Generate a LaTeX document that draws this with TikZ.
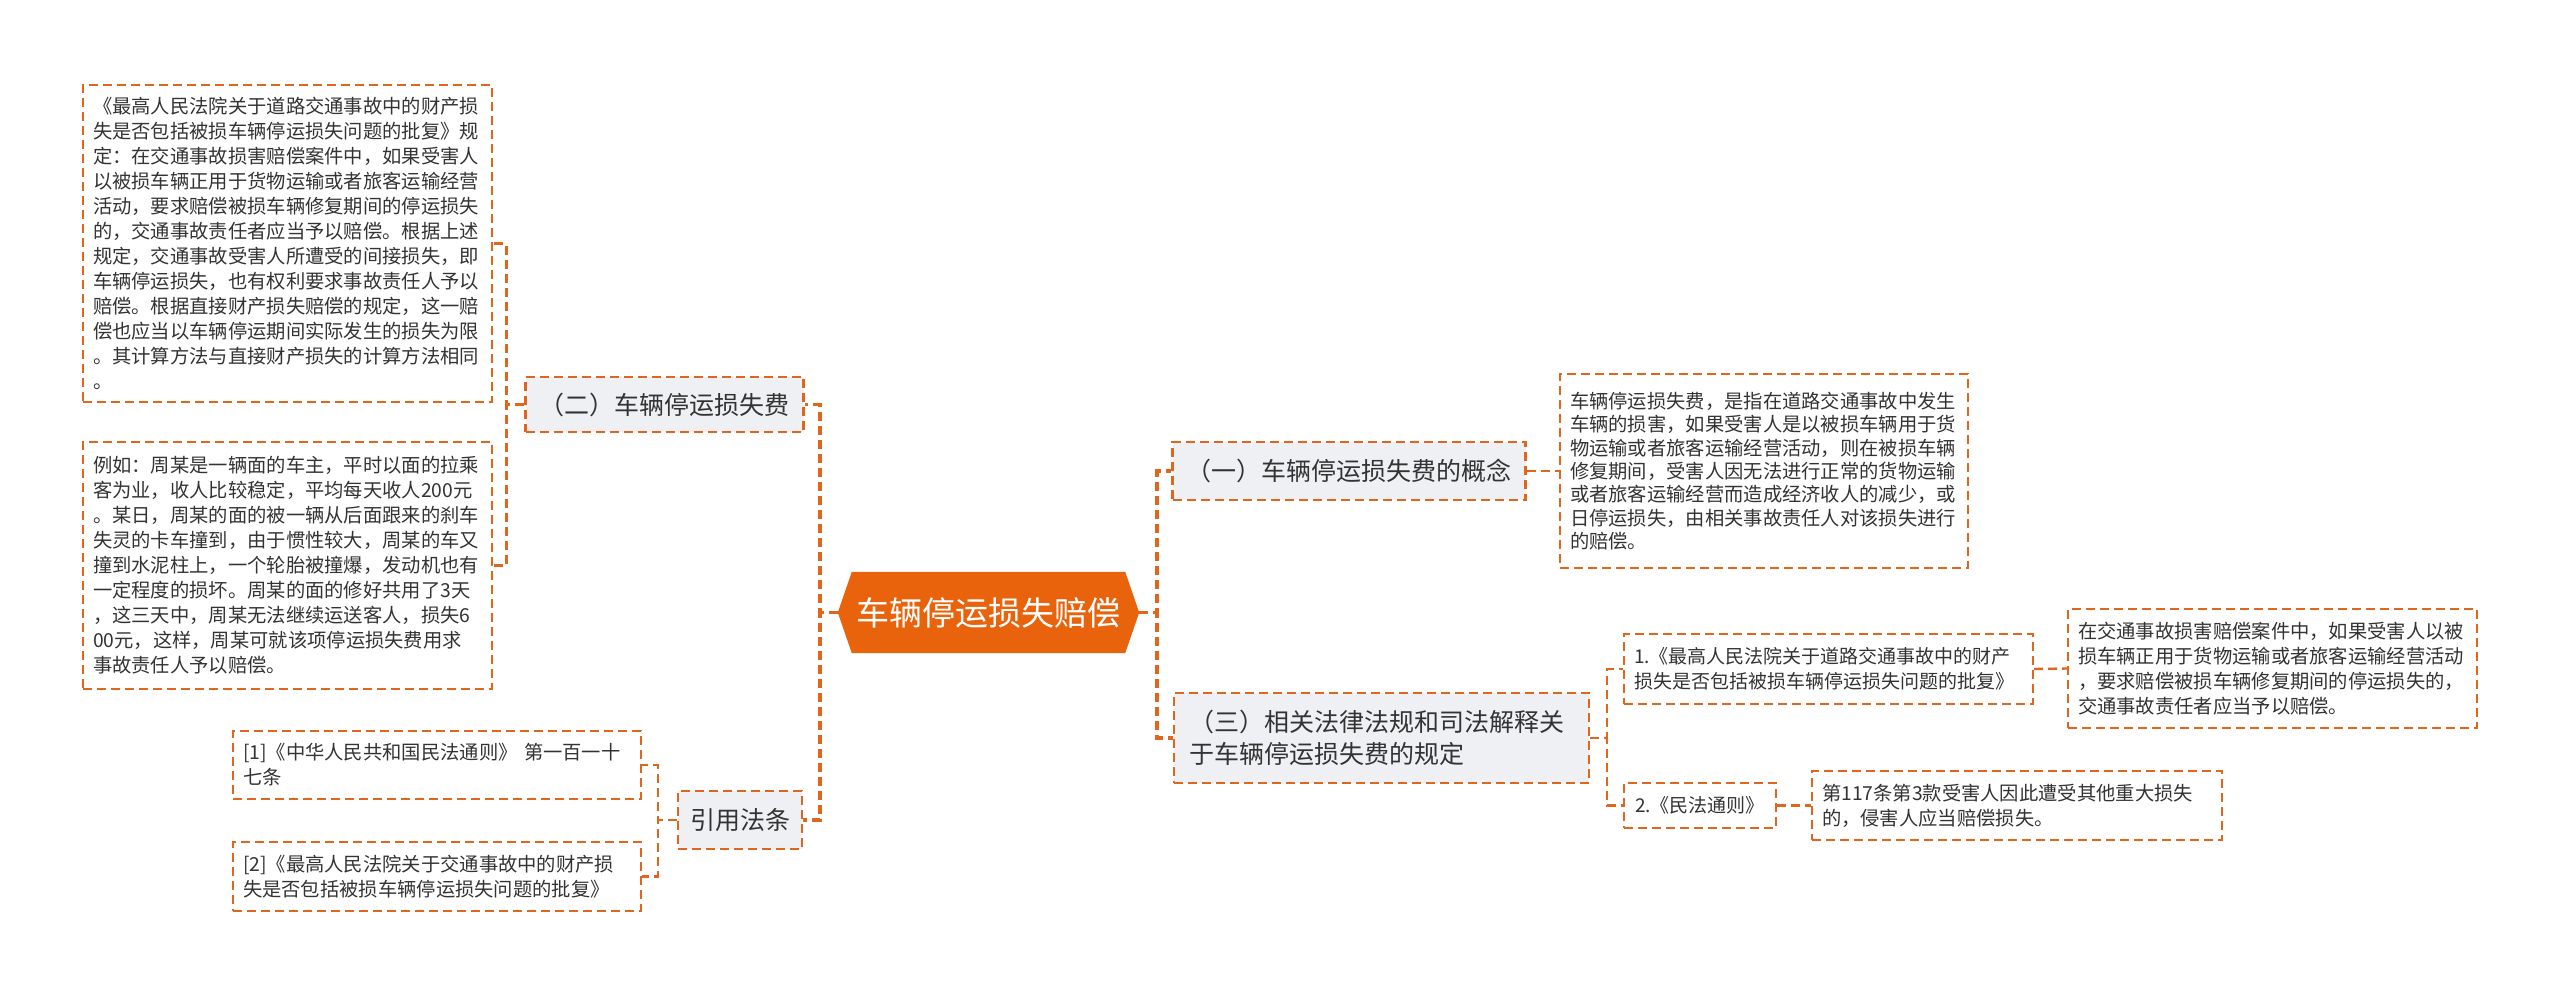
\documentclass[tikz,border=0pt]{standalone}
\usepackage{fontspec}
\setmainfont{Noto Sans CJK SC}
\usetikzlibrary{backgrounds}
\definecolor{lineor}{HTML}{E0661E}
\definecolor{rootfill}{HTML}{E8630C}
\definecolor{catfill}{HTML}{EEF0F3}
\definecolor{txt}{HTML}{333333}
\begin{document}
\begin{tikzpicture}[x=1pt,y=-1pt,
  dsh/.style={dash pattern=on 9pt off 5pt},
  leaf/.style={draw=lineor, dsh, line width=2.2pt, fill=white, text=txt, inner xsep=10pt, inner ysep=0pt, align=left, font=\fontsize{19.3}{25}\selectfont},
  cat/.style={draw=lineor, dsh, line width=2.2pt, fill=catfill, text=txt, inner xsep=14pt, inner ysep=0pt, align=left, font=\fontsize{25}{32}\selectfont},
  mainconn/.style={draw=lineor, dsh, line width=3.5pt},
  subconn/.style={draw=lineor, dsh, line width=2.4pt},
]
\useasboundingbox (0,0) rectangle (2560,994);

% root
\node[minimum width=301pt, minimum height=81pt, inner sep=0pt, text=white, font=\fontsize{33}{40}\selectfont] (root) at (988.5,612.5) {车辆停运损失赔偿};

% category nodes
\node[cat, minimum width=275pt, minimum height=55pt] (c2) at (664.5,404.5) {（二）车辆停运损失费};
\node[cat, minimum width=124pt, minimum height=58pt, inner xsep=10pt] (cite) at (740,820) {引用法条};
\node[cat, minimum width=350pt, minimum height=58pt] (c1) at (1349,471) {（一）车辆停运损失费的概念};
\node[cat, minimum width=415pt, minimum height=90pt, text width=385pt, inner xsep=15pt] (c3) at (1381.5,738) {（三）相关法律法规和司法解释关\\于车辆停运损失费的规定};

% left leaves
\node[leaf, minimum width=409pt, minimum height=317pt, text width=389pt] (boxA) at (287.5,243.5) {《最高人民法院关于道路交通事故中的财产损\\
失是否包括被损车辆停运损失问题的批复》规\\
定：在交通事故损害赔偿案件中，如果受害人\\
以被损车辆正用于货物运输或者旅客运输经营\\
活动，要求赔偿被损车辆修复期间的停运损失\\
的，交通事故责任者应当予以赔偿。根据上述\\
规定，交通事故受害人所遭受的间接损失，即\\
车辆停运损失，也有权利要求事故责任人予以\\
赔偿。根据直接财产损失赔偿的规定，这一赔\\
偿也应当以车辆停运期间实际发生的损失为限\\
。其计算方法与直接财产损失的计算方法相同\\
。};
\node[leaf, minimum width=409pt, minimum height=247pt, text width=389pt] (boxB) at (287.5,565.5) {例如：周某是一辆面的车主，平时以面的拉乘\\
客为业，收人比较稳定，平均每天收人200元\\
。某日，周某的面的被一辆从后面跟来的刹车\\
失灵的卡车撞到，由于惯性较大，周某的车又\\
撞到水泥柱上，一个轮胎被撞爆，发动机也有\\
一定程度的损坏。周某的面的修好共用了3天\\
，这三天中，周某无法继续运送客人，损失6\\
00元，这样，周某可就该项停运损失费用求\\
事故责任人予以赔偿。};
\node[leaf, minimum width=408pt, minimum height=68pt, text width=388pt] (ref1) at (437,765) {[1]《中华人民共和国民法通则》 第一百一十\\七条};
\node[leaf, minimum width=408pt, minimum height=69pt, text width=388pt] (ref2) at (437,876.5) {[2]《最高人民法院关于交通事故中的财产损\\失是否包括被损车辆停运损失问题的批复》};

% right leaves
\node[leaf, minimum width=408pt, minimum height=194pt, text width=388pt, font=\fontsize{19.3}{23.3}\selectfont] (boxC) at (1764,471) {车辆停运损失费，是指在道路交通事故中发生\\
车辆的损害，如果受害人是以被损车辆用于货\\
物运输或者旅客运输经营活动，则在被损车辆\\
修复期间，受害人因无法进行正常的货物运输\\
或者旅客运输经营而造成经济收人的减少，或\\
日停运损失，由相关事故责任人对该损失进行\\
的赔偿。};
\node[leaf, minimum width=409pt, minimum height=70pt, text width=389pt, font=\fontsize{19}{25}\selectfont] (n1) at (1828.5,669) {1.《最高人民法院关于道路交通事故中的财产\\损失是否包括被损车辆停运损失问题的批复》};
\node[leaf, minimum width=152pt, minimum height=45pt, font=\fontsize{19}{25}\selectfont] (n2) at (1700,805.5) {2.《民法通则》};
\node[leaf, minimum width=409pt, minimum height=119pt, text width=389pt] (boxD) at (2272.5,668.5) {在交通事故损害赔偿案件中，如果受害人以被\\
损车辆正用于货物运输或者旅客运输经营活动\\
，要求赔偿被损车辆修复期间的停运损失的，\\
交通事故责任者应当予以赔偿。};
\node[leaf, minimum width=410pt, minimum height=69pt, text width=390pt] (boxE) at (2017,805.5) {第117条第3款受害人因此遭受其他重大损失\\的，侵害人应当赔偿损失。};

\begin{scope}[on background layer]
\fill[white] (0,0) rectangle (2560,994);
% main connectors
\draw[mainconn] (root.west) -- ++(-18,0) |- (c2.east);
\draw[mainconn] (root.west) -- ++(-18,0) |- (cite.east);
\draw[mainconn] (root.east) -- ++(18,0) |- (c1.west);
\draw[mainconn] (root.east) -- ++(18,0) |- (c3.west);
% sub connectors
\draw[subconn] (c2.west) -- ++(-18,0) |- (boxA.east);
\draw[subconn] (c2.west) -- ++(-18,0) |- (boxB.east);
\draw[subconn] (cite.west) -- ++(-19,0) |- (ref1.east);
\draw[subconn] (cite.west) -- ++(-19,0) |- (ref2.east);
\draw[subconn] (c1.east) -- (boxC.west);
\draw[subconn] (c3.east) -- ++(17,0) |- (n1.west);
\draw[subconn] (c3.east) -- ++(17,0) |- (n2.west);
\draw[subconn] (n1.east) -- (boxD.west);
\draw[subconn] (n2.east) -- (boxE.west);
% root hexagon
\fill[rootfill] (root.west) -- ([xshift=14pt]root.north west) -- ([xshift=-14pt]root.north east) -- (root.east) -- ([xshift=-14pt]root.south east) -- ([xshift=14pt]root.south west) -- cycle;
\end{scope}
\end{tikzpicture}
\end{document}
